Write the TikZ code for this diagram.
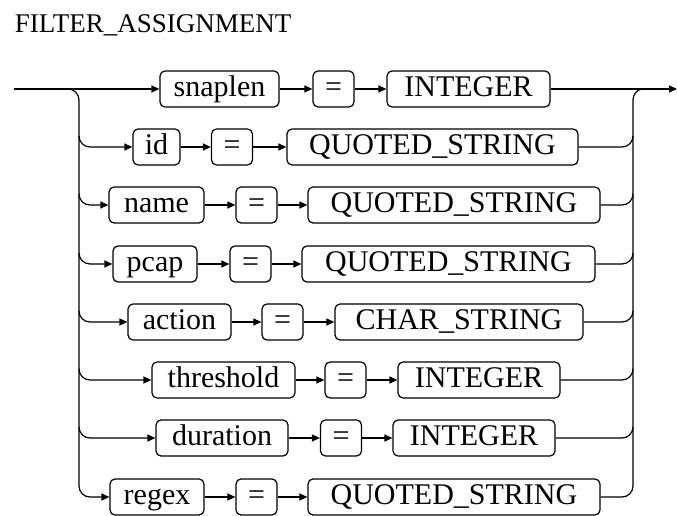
\documentclass[tikz,border=0pt]{standalone}
\usepackage{fontspec}
\setmainfont{Liberation Serif}
\usetikzlibrary{arrows.meta}

\tikzset{
  box/.style={draw, rounded corners=5pt, minimum height=36pt, minimum width=#1,
    inner xsep=3pt, inner ysep=0pt, text height=21pt, text depth=6pt},
  eqbox/.style={box=41pt},
}

\begin{document}
\begin{tikzpicture}[x=1pt,y=1pt,line width=1.2pt,>={Triangle[length=8pt,width=7pt]},
  font=\fontsize{30}{32}\selectfont]
\useasboundingbox (0,0) rectangle (677,516);

\node[anchor=base west,font=\fontsize{27}{30}\selectfont] (title) at (11,483) {FILTER\_ASSIGNMENT};

\coordinate (in) at (14,427);
\coordinate (out) at (677,427);
\coordinate (lrail) at (79,0);
\coordinate (rrail) at (633,0);

% rows
\node[box=119pt] (snaplen) at (219.5,427) {snaplen};
\node[eqbox] (eq1) at (333.5,427) {=};
\node[box=163pt] (int1) at (468.5,427) {INTEGER};

\node[box=47pt] (id) at (156.5,369) {id};
\node[eqbox] (eq2) at (232,369) {=};
\node[box=291pt] (qs2) at (432.5,369) {QUOTED\_STRING};

\node[box=95pt] (name) at (156.5,311) {name};
\node[eqbox] (eq3) at (256.5,311) {=};
\node[box=292pt] (qs3) at (454,311) {QUOTED\_STRING};

\node[box=84pt] (pcap) at (155,252) {pcap};
\node[eqbox] (eq4) at (250.5,252) {=};
\node[box=293pt] (qs4) at (448.5,252) {QUOTED\_STRING};

\node[box=103pt] (action) at (179.5,194) {action};
\node[eqbox] (eq5) at (282.5,194) {=};
\node[box=248pt] (cs5) at (459,194) {CHAR\_STRING};

\node[box=143pt] (threshold) at (223.5,136) {threshold};
\node[eqbox] (eq6) at (345.5,136) {=};
\node[box=162pt] (int6) at (479,136) {INTEGER};

\node[box=132pt] (duration) at (222,78) {duration};
\node[eqbox] (eq7) at (341,78) {=};
\node[box=162pt] (int7) at (474,78) {INTEGER};

\node[box=94pt] (regex) at (157,19) {regex};
\node[eqbox] (eq8) at (256.5,19) {=};
\node[box=292pt] (qs8) at (454,19) {QUOTED\_STRING};

% arrows inside the rows
\draw[->] (snaplen) -- (eq1);
\draw[->] (eq1) -- (int1);
\draw[->] (id) -- (eq2);
\draw[->] (eq2) -- (qs2);
\draw[->] (name) -- (eq3);
\draw[->] (eq3) -- (qs3);
\draw[->] (pcap) -- (eq4);
\draw[->] (eq4) -- (qs4);
\draw[->] (action) -- (eq5);
\draw[->] (eq5) -- (cs5);
\draw[->] (threshold) -- (eq6);
\draw[->] (eq6) -- (int6);
\draw[->] (duration) -- (eq7);
\draw[->] (eq7) -- (int7);
\draw[->] (regex) -- (eq8);
\draw[->] (eq8) -- (qs8);

% left rail
\draw[->] (in) -- (snaplen);
\draw[->] ([xshift=-11pt]lrail |- in) to[out=0,in=90] ++(11,-11)
  -- ([yshift=11pt]lrail |- regex) to[out=-90,in=180] ++(11,-11) -- (regex);
\draw[->] ([yshift=11pt]lrail |- id) to[out=-90,in=180] ++(11,-11) -- (id);
\draw[->] ([yshift=11pt]lrail |- name) to[out=-90,in=180] ++(11,-11) -- (name);
\draw[->] ([yshift=11pt]lrail |- pcap) to[out=-90,in=180] ++(11,-11) -- (pcap);
\draw[->] ([yshift=11pt]lrail |- action) to[out=-90,in=180] ++(11,-11) -- (action);
\draw[->] ([yshift=11pt]lrail |- threshold) to[out=-90,in=180] ++(11,-11) -- (threshold);
\draw[->] ([yshift=11pt]lrail |- duration) to[out=-90,in=180] ++(11,-11) -- (duration);

% right rail
\draw[->] (int1) -- (out);
\draw ([xshift=10pt]rrail |- out) to[out=180,in=90] ++(-10,-11)
  -- ([yshift=11pt]rrail |- qs8) to[out=-90,in=0] ++(-11,-11) -- (qs8);
\draw (qs2) -- ([xshift=-11pt]rrail |- qs2) to[out=0,in=-90] ++(11,11);
\draw (qs3) -- ([xshift=-11pt]rrail |- qs3) to[out=0,in=-90] ++(11,11);
\draw (qs4) -- ([xshift=-11pt]rrail |- qs4) to[out=0,in=-90] ++(11,11);
\draw (cs5) -- ([xshift=-11pt]rrail |- cs5) to[out=0,in=-90] ++(11,11);
\draw (int6) -- ([xshift=-11pt]rrail |- int6) to[out=0,in=-90] ++(11,11);
\draw (int7) -- ([xshift=-11pt]rrail |- int7) to[out=0,in=-90] ++(11,11);
\end{tikzpicture}
\end{document}
